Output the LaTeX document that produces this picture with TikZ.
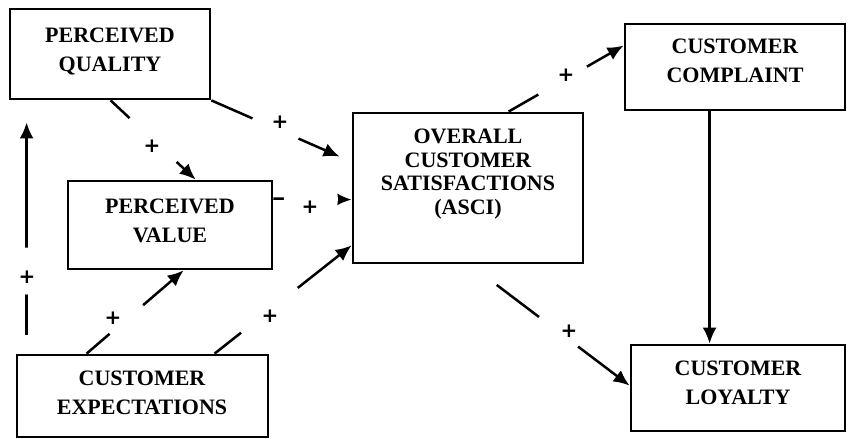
\documentclass[tikz,border=0pt]{standalone}
\usepackage{fontspec}
\setmainfont{Liberation Serif}
\newfontfamily\signfont{DejaVu Sans}
\usetikzlibrary{arrows.meta,fit,calc}
\begin{document}
\begin{tikzpicture}[x=0.5pt,y=-0.5pt,
  box/.style={draw, line width=1.4pt, inner sep=0pt},
  lbl/.style={font=\fontsize{11}{14.5}\selectfont\bfseries, align=center, inner sep=0pt},
  link/.style={line width=1.25pt, -{Latex[length=8pt,width=7pt]}},
  gap/.style={circle, fill=white, inner sep=0pt, minimum size=#1},
  plus/.style={font=\signfont\bfseries\fontsize{10}{10}\selectfont, inner sep=0pt},
]
\useasboundingbox (0,0) rectangle (848,439);

% boxes
\node[box, fit={(10,9) (210,99)}] (pq) {};
\node[box, fit={(68,181) (272,269)}] (pv) {};
\node[box, fit={(17,355) (268,437)}] (ce) {};
\node[box, fit={(353,113) (583,263)}] (ocs) {};
\node[box, fit={(625,24) (845,110)}] (cc) {};
\node[box, fit={(631,345) (845,431)}] (cl) {};

% box captions
\node[lbl] (pqt) at (110,51) {PERCEIVED\\QUALITY};
\node[lbl] (pvt) at (170,221) {PERCEIVED\\VALUE};
\node[lbl] (cet) at (142,393) {CUSTOMER\\EXPECTATIONS};
\node[lbl, font=\fontsize{11}{11.8}\selectfont\bfseries] (ocst) at (468,174)
  {OVERALL\\CUSTOMER\\SATISFACTIONS\\(ASCI)};
\node[lbl] (cct) at (735,61) {CUSTOMER\\COMPLAINT};
\node[lbl] (clt) at (738,383) {CUSTOMER\\LOYALTY};

% connectors, each broken where its sign sits
\draw[link] ($(pq.south west)+(102,0)$) -- node[gap=32pt, pos=.5] (g1) {} ($(pv.north west)+(129,0)$);
\draw[link] (pq.south east) -- node[gap=25pt, pos=.5] (g2) {} ($(ocs.north west)+(-12,45)$);
\draw[link] ($(pv.north east)+(0,19)$) -- node[gap=27pt, pos=.48] (g3) {} ($(ocs.north west)+(0,88)$);
\draw[link] ($(ce.north west)+(71,0)$) -- node[gap=22pt, pos=.41] (g4) {} ($(pv.south west)+(117,0)$);
\draw[link] ($(ce.north west)+(199,0)$) -- node[gap=36pt, pos=.4] (g5) {} ($(ocs.south west)+(0,-19)$);
\draw[link, shorten <=9.5pt, shorten >=11pt] ($(ce.north west)+(11,0)$) -- node[gap=23.5pt, pos=.326] (g6) {} ($(pq.south west)+(18,0)$);
\draw[link] ($(ocs.north west)+(157,0)$) -- node[gap=28pt, pos=.47] (g7) {} ($(cc.north west)+(0,23)$);
\draw[link, shorten <=17pt] ($(ocs.south west)+(118,0)$) -- node[gap=24.5pt, pos=.556] (g8) {} ($(cl.north west)+(0,42)$);
\draw[link] ($(cc.south west)+(86,0)$) -- ($(cl.north west)+(80,0)$);

% signs
\node[plus] (s1) at (152,146) {+};
\node[plus] (s2) at (280,122) {+};
\node[plus] (s3) at (310,207) {+};
\node[plus] (s4) at (113,318) {+};
\node[plus] (s5) at (270,316) {+};
\node[plus] (s6) at (27,277) {+};
\node[plus] (s7) at (566,75) {+};
\node[plus] (s8) at (569,331) {+};
\end{tikzpicture}
\end{document}
